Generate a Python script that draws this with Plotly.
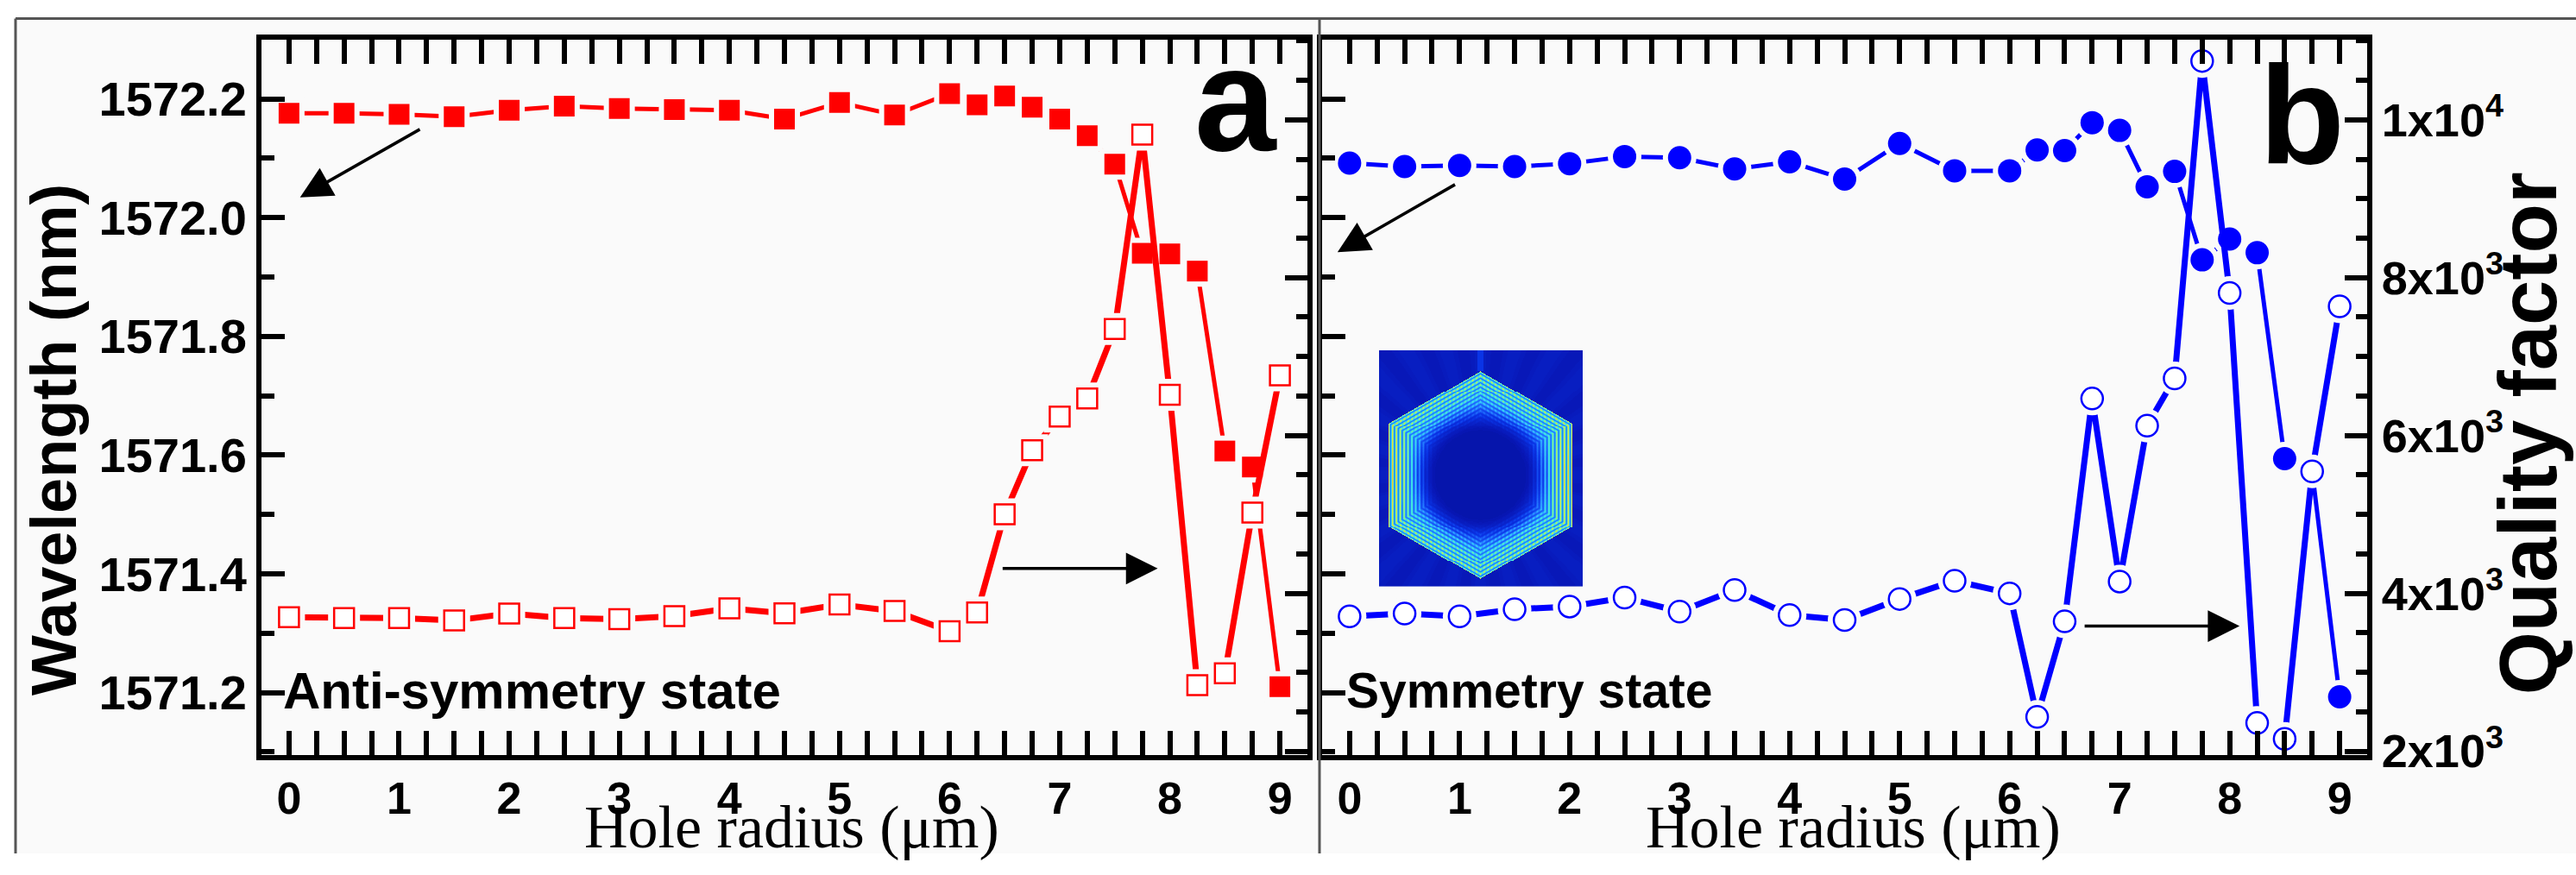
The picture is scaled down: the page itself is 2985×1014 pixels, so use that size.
import numpy as np
import plotly.graph_objects as go

# ---------------- data ----------------
hole_radius = [0, 0.5, 1, 1.5, 2, 2.5, 3, 3.5, 4, 4.5, 5, 5.5, 6, 6.25, 6.5, 6.75,
               7, 7.25, 7.5, 7.75, 8, 8.25, 8.5, 8.75, 9]

wl_anti = [1572.176, 1572.176, 1572.174, 1572.170, 1572.181, 1572.188, 1572.184,
           1572.182, 1572.181, 1572.166, 1572.194, 1572.173, 1572.209, 1572.190,
           1572.205, 1572.186, 1572.166, 1572.138, 1572.090, 1571.940, 1571.939,
           1571.910, 1571.607, 1571.580, 1571.210]
q_anti = [3698, 3688, 3688, 3656, 3744, 3688, 3673, 3712, 3811, 3748, 3858, 3776,
          3520, 3758, 5002, 5813, 6240, 6468, 7348, 9811, 6516, 2838, 2987, 5024, 6762]

wl_sym = [1572.092, 1572.086, 1572.088, 1572.086, 1572.091, 1572.103, 1572.101,
          1572.082, 1572.094, 1572.065, 1572.125, 1572.079, 1572.079, 1572.114,
          1572.113, 1572.160, 1572.147, 1572.052, 1572.078, 1571.929, 1571.964,
          1571.941, 1571.594, 1571.573, 1571.193]
q_sym = [3709, 3744, 3709, 3798, 3833, 3947, 3769, 4043, 3726, 3662, 3929, 4160,
         4000, 2436, 3645, 6468, 4150, 6124, 6724, 10745, 7806, 2358, 2156, 5546, 7636]

q_tickvals = [2000, 4000, 6000, 8000, 10000]
q_ticktext = ["2x10<sup>3</sup>", "4x10<sup>3</sup>", "6x10<sup>3</sup>",
              "8x10<sup>3</sup>", "1x10<sup>4</sup>"]

# ---------------- geometry helpers ----------------
W, H = 2985, 1014
def fx(p):
    return p / W
def fy(p):
    return 1 - p / H

RED = "#FF0000"
BLUE = "#0000FF"
SANS = "Liberation Sans"
SERIF = "Liberation Serif"

X_RANGE = [-0.25, 9.25]
WL_RANGE = [1571.095, 1572.30]
Q_RANGE = [1953, 11016]

ydom = [fy(897), fy(47)]
xdom_a = [fx(303), fx(1515)]
xdom_b = [fx(1532), fx(2743)]

fig = go.Figure()

# ---------------- traces ----------------
def add_series(x, y, xa, ya, color, symbol, filled, msize, lw):
    fig.add_trace(go.Scatter(x=x, y=y, mode="lines", xaxis=xa, yaxis=ya,
                             line=dict(color=color, width=lw), hoverinfo="skip",
                             showlegend=False))
    fig.add_trace(go.Scatter(x=x, y=y, mode="markers", xaxis=xa, yaxis=ya,
                             marker=dict(symbol=symbol, size=msize + 12, color="#fafafa",
                                         line=dict(width=0)),
                             hoverinfo="skip", showlegend=False))
    if filled:
        mk = dict(symbol=symbol, size=msize, color=color, line=dict(width=0))
    else:
        mk = dict(symbol=symbol, size=msize - 2, color="white",
                  line=dict(width=2.5, color=color))
    fig.add_trace(go.Scatter(x=x, y=y, mode="markers", xaxis=xa, yaxis=ya,
                             marker=mk, showlegend=False))

add_series(hole_radius, wl_anti, "x", "y", RED, "square", True, 24, 5)
add_series(hole_radius, q_anti, "x", "y2", RED, "square", False, 25, 7)
add_series(hole_radius, wl_sym, "x2", "y3", BLUE, "circle", True, 27, 5)
add_series(hole_radius, q_sym, "x2", "y4", BLUE, "circle", False, 27, 7)

# ---------------- inset field picture (decorative image) ----------------
IW, IH = 236, 281
u = np.arange(IW) + 0.5
v = np.arange(IH) + 0.5
U, V = np.meshgrid(u, v)
cx, cy, R = 117.5, 148.5, 123.0
dx, dy = U - cx, V - cy
hexd = np.maximum(np.abs(dx) / 0.866, np.abs(dy) + 0.5774 * np.abs(dx)) / R
rr = np.sqrt(dx ** 2 + dy ** 2) / R
def smooth(a, b, t):
    s = np.clip((t - a) / (b - a), 0, 1)
    return s * s * (3 - 2 * s)
core = smooth(0.40, 0.75, rr)
edge = smooth(0.50, 1.0, hexd)
s1 = 0.5 + 0.5 * np.cos(2 * np.pi * (1 - hexd) * R / 5.2)
s2 = 0.5 + 0.5 * np.cos(2 * np.pi * dx / 4.4)
tex = s1 * (0.5 + 0.5 * s2)
side = 1 + 0.3 * np.abs(np.cos(np.arctan2(dy, dx))) ** 6
zin = 0.08 + 0.20 * core + 0.07 * core * tex + edge * side * (0.04 + 0.32 * tex)
zout = 0.11 + 0.012 * np.cos(np.arctan2(dy, dx) * 24)
z = np.where(hexd <= 1.0, zin, zout)
top_line = (np.abs(dx) < 3.5) & (V < cy - R)
z = np.where(top_line, 0.2, z)
z_img = np.round(np.clip(z, 0, 1) * 100).astype(int).tolist()

inset_scale = [[0.0, "#00087a"], [0.1, "#0818b8"], [0.2, "#0a34e6"], [0.3, "#2070ff"],
               [0.4, "#30b8ff"], [0.5, "#40e8e0"], [0.6, "#90f080"], [0.7, "#e8e040"],
               [0.8, "#ff9020"], [1.0, "#c00000"]]
fig.add_trace(go.Heatmap(z=z_img, xaxis="x3", yaxis="y5", colorscale=inset_scale,
                         zmin=0, zmax=100, showscale=False, hoverinfo="skip"))

# ---------------- axes ----------------
tickfont = dict(family=SANS, size=52, color="black", weight="bold")

def xaxis_cfg(domain, anchor):
    return dict(domain=domain, anchor=anchor, range=X_RANGE, showgrid=False, zeroline=False,
                showline=True, linewidth=6, linecolor="black", mirror="allticks",
                ticks="inside", ticklen=28, tickwidth=6, tickcolor="black",
                tickmode="linear", tick0=0, dtick=1, tickfont=tickfont,
                minor=dict(ticks="inside", dtick=0.25, tick0=0, ticklen=15, tickwidth=6,
                           tickcolor="black", showgrid=False),
                fixedrange=True)

def wl_axis(domain, anchor, labels):
    return dict(domain=domain, anchor=anchor, range=WL_RANGE, showgrid=False, zeroline=False,
                showline=True, linewidth=6, linecolor="black",
                ticks="inside", ticklen=27, tickwidth=6, tickcolor="black",
                tickmode="linear", tick0=1571.2, dtick=0.2, tickformat=".1f",
                showticklabels=labels,
                tickfont=dict(family=SANS, size=56, color="black", weight="bold"),
                minor=dict(ticks="inside", dtick=0.1, tick0=1571.2, ticklen=15, tickwidth=6,
                           tickcolor="black", showgrid=False))

def q_axis(overlay, anchor, labels):
    return dict(overlaying=overlay, anchor=anchor, side="right", range=Q_RANGE,
                showgrid=False, zeroline=False, showline=True, linewidth=6,
                linecolor="black", ticks="inside", ticklen=26, tickwidth=6,
                tickcolor="black", tickmode="array", tickvals=q_tickvals,
                ticktext=q_ticktext, showticklabels=labels,
                tickfont=dict(family=SANS, size=54, color="black", weight="bold"),
                minor=dict(ticks="inside", tickmode="linear", tick0=2000, dtick=500,
                           ticklen=13, tickwidth=6, tickcolor="black", showgrid=False))

fig.update_layout(
    xaxis=xaxis_cfg(xdom_a, "y"),
    xaxis2=xaxis_cfg(xdom_b, "y3"),
    yaxis=wl_axis(ydom, "x", True),
    yaxis2=q_axis("y", "x", False),
    yaxis3=wl_axis(ydom, "x2", False),
    yaxis4=q_axis("y3", "x2", True),
    xaxis3=dict(domain=[fx(1598), fx(1834)], anchor="y5", visible=False,
                range=[-0.5, IW - 0.5]),
    yaxis5=dict(domain=[fy(697), fy(416)], anchor="x3", visible=False,
                range=[IH - 0.5, -0.5]),
)

# ---------------- annotations ----------------
ann = []
def text(s, x, y, size, family=SANS, bold=True, xanchor="center", yanchor="middle", angle=0):
    ann.append(dict(text=s, x=fx(x), y=fy(y), xref="paper", yref="paper",
                    xanchor=xanchor, yanchor=yanchor, showarrow=False, textangle=angle,
                    font=dict(family=family, size=size, color="black",
                              weight="bold" if bold else "normal")))

text("Wavelength (nm)", 62, 523, 74, angle=-90)
text("Quality factor", 2929, 515, 94, angle=-90)
text("Hole radius (μm)", 917, 983, 70, family=SERIF, bold=False)
text("Hole radius (μm)", 2147, 983, 70, family=SERIF, bold=False)
text("Anti-symmetry state", 326, 821, 60, xanchor="left")
text("Symmetry state", 1558, 820, 57, xanchor="left")
text("a", 1432, 118, 170)
text("b", 2667, 136, 162)

def arrow(xh, yh, xt, yt, xr, yr):
    ann.append(dict(x=xh, y=yh, ax=xt, ay=yt, xref=xr, yref=yr, axref=xr, ayref=yr,
                    text="", showarrow=True, arrowhead=2, arrowsize=2.1, arrowwidth=3.5,
                    arrowcolor="black", standoff=0, startstandoff=0))

arrow(0.10, 1572.034, 1.20, 1572.150, "x", "y")
arrow(7.89, 1571.409, 6.47, 1571.409, "x", "y")
arrow(-0.11, 1571.942, 0.97, 1572.057, "x2", "y3")
arrow(8.09, 1571.312, 6.67, 1571.312, "x2", "y3")

# ---------------- frame ----------------
shapes = [
    dict(type="rect", xref="paper", yref="paper", x0=fx(18), x1=1.0, y0=0, y1=fy(22),
         fillcolor="#fafafa", line=dict(width=0), layer="below"),
    dict(type="line", xref="paper", yref="paper", x0=fx(18), x1=fx(18), y0=0, y1=fy(22),
         line=dict(color="#555555", width=3)),
    dict(type="line", xref="paper", yref="paper", x0=fx(18), x1=1.0, y0=fy(22), y1=fy(22),
         line=dict(color="#555555", width=3)),
    dict(type="line", xref="paper", yref="paper", x0=fx(1529), x1=fx(1529), y0=0, y1=fy(22),
         line=dict(color="#555555", width=3)),
]

fig.update_layout(width=W, height=H, margin=dict(l=0, r=0, t=0, b=0, pad=0),
                  paper_bgcolor="white", plot_bgcolor="rgba(0,0,0,0)",
                  showlegend=False, annotations=ann, shapes=shapes)

fig.write_html("out.html")
